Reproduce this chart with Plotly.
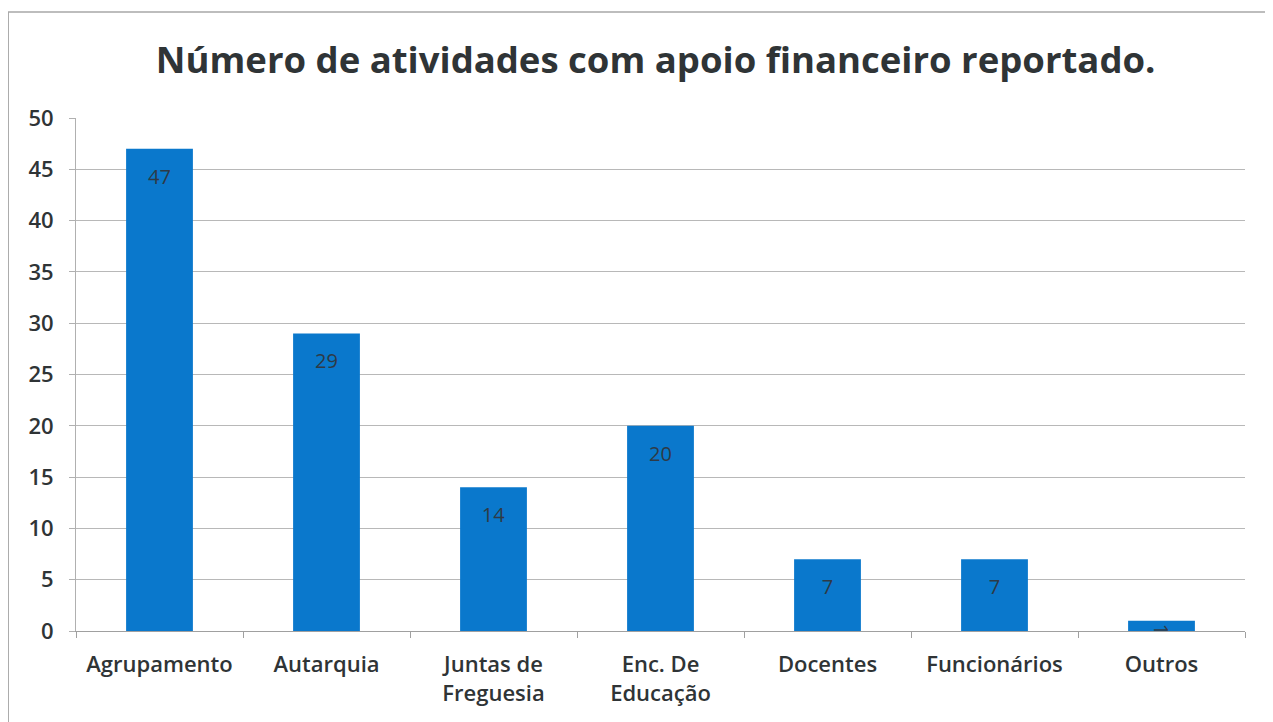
import plotly.graph_objects as go

categories = ["Agrupamento", "Autarquia", "Juntas de<br>Freguesia", "Enc. De<br>Educação",
              "Docentes", "Funcionários", "Outros"]
values = [47, 29, 14, 20, 7, 7, 1]
y_ticks = [0, 5, 10, 15, 20, 25, 30, 35, 40, 45, 50]

labels = [("<span style='font-size:6px'>\u00a0</span><br>" if v > 3 else "") + str(v)
          for v in values]

fig = go.Figure(go.Bar(
    x=categories, y=values, text=labels,
    textposition="inside", insidetextanchor="end", constraintext="none",
    textfont=dict(family="Open Sans", size=20, color="#2e3a46"),
    marker=dict(color="#0a78cc", line=dict(width=0)),
))

fig.update_layout(
    width=1265, height=714,
    margin=dict(l=68, r=28, t=110, b=91),
    paper_bgcolor="white", plot_bgcolor="white",
    bargap=0.6,
    showlegend=False,
    title=dict(text="<b>Número de atividades com apoio financeiro reportado.</b>",
               x=0.512, xanchor="center", y=0.927, yanchor="middle",
               font=dict(family="Open Sans", size=36.5, color="#2f3436")),
    font=dict(family="Open Sans", color="#333333", size=17),
)
fig.update_yaxes(range=[0, 50], tickvals=y_ticks, showgrid=True, gridcolor="#b8b8b8",
                 gridwidth=1, showline=True, linecolor="#b0b0b0", ticks="outside",
                 ticklen=6, tickcolor="#b0b0b0", zeroline=False, ticklabelstandoff=11,
                 tickfont=dict(size=22, color="#2f3436", weight=600))
fig.update_xaxes(showline=True, linecolor="#a0a0a0", ticks="outside", tickson="boundaries",
                 ticklen=6, tickcolor="#a0a0a0", ticklabelstandoff=14,
                 tickfont=dict(size=22, color="#2f3436", weight=600))

fig.add_shape(type="rect", xref="paper", yref="paper",
              x0=-0.058, x1=1.1, y0=-0.3, y1=1.2066,
              line=dict(color="#a8a8a8", width=1.5), fillcolor="rgba(0,0,0,0)")

fig.write_html("out.html")
